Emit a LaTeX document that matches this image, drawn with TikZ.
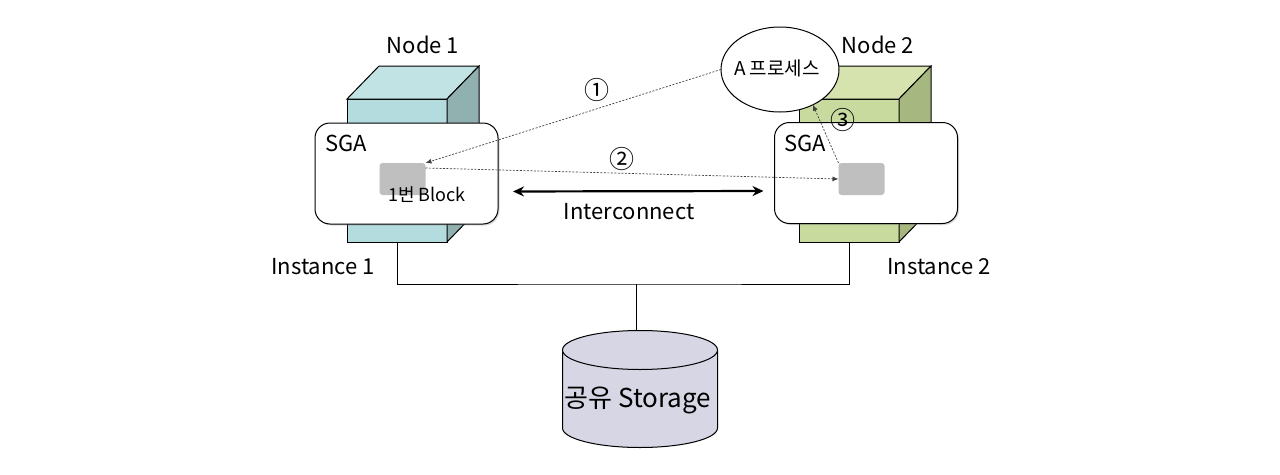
\documentclass[tikz,border=0pt]{standalone}
\usepackage{fontspec}
\setmainfont{Noto Sans CJK KR}
\usepackage{xcolor}
\usetikzlibrary{shapes,arrows,positioning,calc,arrows.meta,shadows}

\definecolor{tealfront}{HTML}{B4DCDE}
\definecolor{tealtop}{HTML}{C2E3E3}
\definecolor{tealside}{HTML}{90B1AF}
\definecolor{olivefront}{HTML}{C8DA9E}
\definecolor{olivetop}{HTML}{D6E3AF}
\definecolor{oliveside}{HTML}{A6B87F}
\definecolor{blockgray}{HTML}{BFBFBF}
\definecolor{diskfill}{HTML}{D6D6E4}

\begin{document}
\begin{tikzpicture}[x=1pt, y=-1pt, outer sep=0pt, line width=1pt,
    front/.style={rectangle, draw, minimum width=100pt, minimum height=143pt},
    sga/.style={rectangle, draw, rounded corners=15pt, fill=white, minimum width=183pt, minimum height=101pt,
        drop shadow={shadow xshift=1.5pt, shadow yshift=-1.5pt, opacity=0.3}},
    blk/.style={rectangle, rounded corners=3pt, fill=blockgray, minimum width=46pt, minimum height=32pt},
    flow/.style={gray!50!black, line width=0.7pt, dash pattern=on 2pt off 1.5pt, -{Latex[length=6pt,width=5pt]}},
    lbl/.style={font=\fontsize{22}{24}\selectfont},
    small/.style={font=\fontsize{18}{20}\selectfont},
    num/.style={font=\fontsize{25}{26}\selectfont}]
    \useasboundingbox (0,0) rectangle (1280,474);

    % Node 1
    \node [front, fill=tealfront] (n1) at (397,170.5) {};
    \filldraw [fill=tealtop] (n1.north west) -- ++(32,-33) -- ++(100,0) -- (n1.north east) -- cycle;
    \filldraw [fill=tealside] (n1.north east) -- ++(32,-33) -- ++(0,143) -- (n1.south east) -- cycle;

    % Node 2
    \node [front, fill=olivefront] (n2) at (849,170.5) {};
    \filldraw [fill=olivetop] (n2.north west) -- ++(32,-33) -- ++(100,0) -- (n2.north east) -- cycle;
    \filldraw [fill=oliveside] (n2.north east) -- ++(32,-33) -- ++(0,143) -- (n2.south east) -- cycle;

    % SGA
    \node [sga] (sga1) at (406.5,173.5) {};
    \node [sga] (sga2) at (866,173) {};
    \node [blk] (blk1) at (402.5,179) {};
    \node [blk] (blk2) at (861.5,179) {};
    \node [lbl, anchor=west] (sgat1) at (322,143) {SGA};
    \node [lbl, anchor=west] (sgat2) at (781,143) {SGA};
    \node [small] (blkt1) at (427,195) {1번 Block};

    \node [lbl] (node1) at (423,45) {Node 1};
    \node [lbl] (node2) at (878,45) {Node 2};
    \node [lbl] (inst1) at (323,267) {Instance 1};
    \node [lbl] (inst2) at (939,267) {Instance 2};

    % process
    \node [ellipse, draw, fill=white, minimum width=118pt, minimum height=85pt] (proc) at (780,69.5) {};
    \node [font=\fontsize{19}{21}\selectfont] (proct) at (777,68) {A 프로세스};

    % storage
    \coordinate (busmid) at (636,284);
    \coordinate (disktop) at (636,331);
    \draw (n1.south) |- (busmid) -| (n2.south);
    \draw (busmid) -- (disktop);
    \filldraw [fill=diskfill] (562.5,350) -- (562.5,428) arc[start angle=180, end angle=360, x radius=77.5pt, y radius=19.5pt] -- (717.5,350);
    \filldraw [fill=diskfill] (640,350) ellipse [x radius=77.5pt, y radius=19.5pt];
    \node [font=\fontsize{26}{28}\selectfont] (storage) at (638,400) {공유 Storage};

    % interconnect
    \draw [line width=2.2pt, {Stealth[length=11pt,width=10pt]}-{Stealth[length=11pt,width=10pt]}, shorten <=15pt, shorten >=11pt]
        ([yshift=-18pt]sga1.east) -- ([yshift=-18pt]sga2.west);
    \node [lbl] (ict) at (629,212) {Interconnect};

    % flows
    \draw [flow] (proc.west) -- (blk1.north east);
    \draw [flow] ([yshift=-5pt]blk1.north east) -- (blk2.west);
    \draw [flow] (blk2.north west) -- (proc.-47);
    \node [num] (f1) at (597,90) {①};
    \node [num] (f2) at (622,159) {②};
    \node [num] (f3) at (843,120) {③};
\end{tikzpicture}
\end{document}
